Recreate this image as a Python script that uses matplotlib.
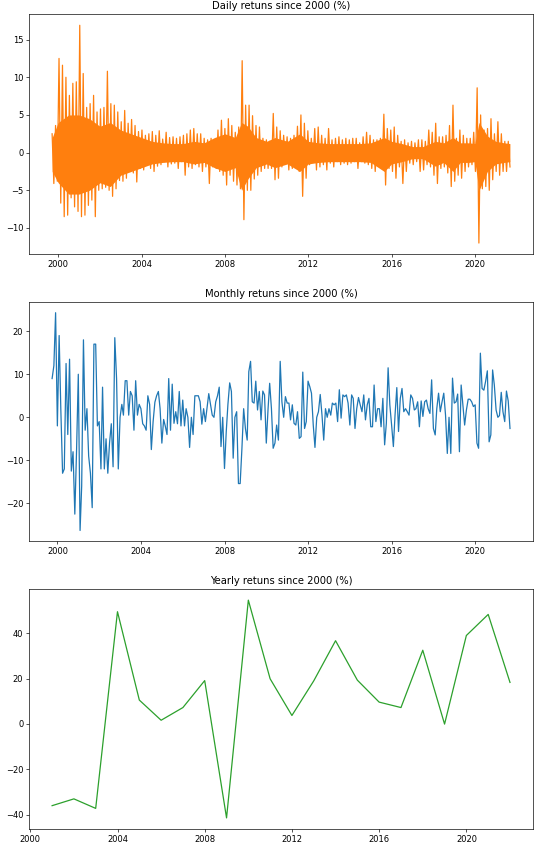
import numpy as np
import pandas as pd
import matplotlib
matplotlib.use("Agg")
import matplotlib.pyplot as plt

# ---------------- data ----------------
# Daily returns: extremes read per ~2-month bin (upper and lower)
daily_hi = [2.5, 3.6, 12.5, 11.6, 10, 7.6, 9.2, 9.4, 16.9, 10.5, 6, 6.5, 7.6, 5.4, 5.8, 6,
            10.8, 6.5, 6.3, 5.4, 4.1, 5.6, 3.9, 4.4, 3.6, 2.8, 3, 2.3, 2.5, 2.8, 2.3, 2.9, 1.8,
            2.7, 2.0, 2.1, 1.9, 2.1, 2.3, 2.5, 3.0, 3.2, 2.5, 2.5, 1.9, 1.7, 1.9, 1.7, 3.0, 4.3,
            3.2, 4.5, 3.6, 2.7, 3.4, 12.2, 6.3, 6.3, 4.9, 3.6, 3.4, 1.9, 1.7, 1.5, 5.2, 3.4, 2.9,
            2.3, 2.1, 1.9, 2.3, 3.5, 5.0, 3.9, 2.9, 1.9, 3.2, 3.4, 2.3, 1.9, 3.2, 1.7, 1.9, 2.1,
            1.7, 1.9, 1.7, 1.9, 1.9, 1.3, 2.1, 2.7, 2.3, 1.7, 1.7, 1.9, 5.1, 3.2, 3.0, 3.4,
            2.3, 1.5, 1.7, 1.3, 1.5, 1.3, 1.7, 1.7, 1.5, 3.0, 2.7, 3.9, 2.1, 2.1, 2.3, 3.6, 6.3,
            1.9, 3.0, 2.3, 1.9, 1.9, 2.7, 8.6, 5.0, 3.0, 3.2, 4.5, 2.5, 4.1, 2.5, 1.5, 1.5]
daily_lo = [-4.1, -3.8, -6.7, -8.5, -8.3, -6, -7.2, -7.8, -8.5, -8.3, -7, -6.3, -8.5, -5, -4.8,
            -4.6, -5, -5.8, -4.8, -3.7, -3.8, -3.4, -2.5, -2.7, -3.9, -2.1, -2.3, -1.6, -2.1,
            -2.5, -1.8, -1.6, -1.2,
            -1.9, -1.5, -1.4, -2.1, -1.2, -3.0, -1.9, -2.1, -1.6, -1.9, -2.5, -1.9, -4.1, -1.9,
            -2.1, -2.5, -3.0, -4.3, -3.0, -3.8, -4.3, -4.8, -8.9, -5, -5, -3.5, -3.0, -2.5, -2.1,
            -2.1, -2.1, -3.6, -3.4, -1.9,
            -1.2, -2.3, -2.1, -1.6, -2.5, -5.8, -3.4, -1.6, -1.2, -2.3, -1.9, -1.6, -2.3, -1.4,
            -1.9, -1.2, -1.6, -1.4, -1.6, -1.4, -1.2, -2.1, -1.2, -1.4, -1.6, -2.1, -2.5, -1.6,
            -2.1, -4.3, -2.1, -2.5, -3.4,
            -1.9, -4.1, -2.5, -1.4, -1.6, -1.2, -2.5, -2.3, -1.6, -1.9, -3.0, -4.1, -2.1, -1.9,
            -2.7, -4.5, -3.8, -3.0, -3.4, -2.5, -1.9, -1.6, -2.5, -12.0, -4.8, -4.5, -5.0, -3.6,
            -2.5, -3.0, -2.5, -2.5, -1.9]
daily_start, daily_end = "1999-09-16", "2021-09-08"

# Daily returns: dense core band (where the daily line is solid), read per ~half year
core_years = [1999.71, 2000.0, 2000.5, 2001.0, 2001.5, 2002.0, 2002.5, 2003.0, 2003.5, 2004.0,
              2004.5, 2005.0, 2005.5, 2006.0, 2006.5, 2007.0, 2007.5, 2008.0, 2008.5, 2008.8,
              2009.1, 2009.5, 2010.0, 2010.4, 2011.0, 2011.6, 2012.0, 2012.5, 2013.0, 2013.5,
              2014.0, 2014.5, 2015.0, 2015.65, 2016.0, 2016.5, 2017.0, 2017.5, 2018.1, 2018.5,
              2018.95, 2019.3, 2019.7, 2020.0, 2020.2, 2020.6, 2021.0, 2021.4, 2021.68]
core_hi = [2, 4, 5, 5, 4.5, 3.5, 4, 3, 2.5, 2,
           1.5, 1.3, 1.2, 1.2, 1.5, 1.3, 2, 2.5, 2, 4,
           3.5, 2, 1.5, 2, 1.5, 2.5, 1.5, 1.3, 1.2, 1.2,
           1.2, 1.2, 1.3, 2, 1.5, 1.2, 0.8, 0.8, 1.5, 1.3,
           2, 1.3, 1.3, 1.2, 4, 2.2, 1.5, 1.3, 1.2]
core_lo = [-2.5, -4, -5.5, -5.5, -5, -4, -4.5, -3, -2.5, -2,
           -1.5, -1.3, -1.2, -1.2, -1.5, -1.3, -2, -2.5, -2, -5,
           -3.5, -2, -1.5, -2, -1.5, -2.5, -1.5, -1.3, -1.2, -1.2,
           -1.2, -1.2, -1.3, -2.5, -1.5, -1.2, -0.8, -0.8, -1.8, -1.3,
           -2.5, -1.3, -1.3, -1.2, -5, -2.5, -1.5, -1.3, -1.2]

# Monthly returns (%), month ends from Sep 1999
monthly = [9, 12, 24.3, -2, 19, 2, -13, -12, 12.5, -4,
           13.5, -12.5, -8, -22.5, -8, 10, -26.3, -16, 18, -3,
           2, -9, -13, -21, 17, 17, -2, -1, -12, 7,
           -12, -5, -13, -6, -1.5, -11.5, 18.5, 9, -12, 0,
           3, 0.5, 8.5, 8.5, 0.5, 6, 5, -3, 8.5, 0.5,
           3, 2, -1.5, -2, -3, 5, 3, -7.5, -1, 3.5,
           5, 6, 2, -6, -0.5, -2, -4, 9,
           -3, 7.7, -1.4, 1.3, -1.5, 6, -2, 4, -2, 2,
           0, -7, 0, -4, 5, 5, 5, 3.6, -1.6, 2,
           -1, 2, 5.5, 3, 0.5, 0, 3.6, 5, 7, -6.8,
           0, -11.9, -3.3, 3, 8, 6, -9.5, 0, 1.3, -15.4,
           -15.4, -7.2, 2, -2.6, -5.3, 10.6, 13, 3.6, 3.3, 8.4,
           1.7, 6, -0.6, 6.1, 5.2, -6, 2, 7.9, 2, -7.2,
           -6, -1.8, -5.3,
           13, 3.6, 0, 4.8, 3.3, 3.3, -0.6, 2.9, -1.4, -1.8,
           1.3, -4.9, -4.5, 10.5, -2.6, -1, 8.4, 7.1, 5.6, -1.8,
           -7, 0, 1.3, 5.3, 0.5, -5.3, 2, 0, 2, 0.5,
           3.3, 2.9, 3.3, -1, 6.4, -0.2, 5.2, 4.8, 5.2, 3.3,
           -1.8, 5.2, 4.4, -2.6, 2, 4.6, 2.9, 1.3, 5.2, -0.6,
           2.9, 4.4, -2.2, -2.2, 7.5, -1, 2, 2, -2.2, 4.4,
           -6.4, -1.4, 11.5, 2.9, -1.8, -6.8, 0.5, 6.9, -3.3, 4.4,
           6.7, 1.3, 2, 1.3, 0.5,
           5.2, 4.4, 1.7, 2, 3.6, -2.2, 3.8, 0.2, 3.6, 4,
           2, 0.9, 8.7, -2.6, -4.1, 2, 5.6, 1.3, 3.6, 5.6,
           0.5, -8.4, 0, -8.4, 9.1, 3.3, 3.6, 5.4, -8, 7.5,
           2.9, -1.8, 1.7, 4.2, 4.2, 3.6, 2.5, 2.9, -6, -7.2,
           14.9, 6.7, 6.3, 8.3, 10.8, -5.7, -4.1, 11, 7.5, 1.7,
           0, 0.4, 5.8, 1.3, -1, 6.1, 3.8, -2.6]
monthly_start = "1999-09-30"

# Yearly returns (%), year ends 2000..2021
years = list(range(2000, 2022))
yearly = [-36.1, -33.1, -37.3, 49.5, 10.5, 1.6, 7.2, 19.1, -41.5, 54.6, 19.9,
          3.7, 19.0, 36.7, 19.3, 9.6, 7.2, 32.5, -0.1, 39.0, 48.3, 18.3]

titles = ["Daily retuns since 2000 (%)",
          "Monthly retuns since 2000 (%)",
          "Yearly retuns since 2000 (%)"]

# ---------------- build series ----------------
daily_vals = []
for h, l in zip(daily_hi, daily_lo):
    daily_vals.extend([h, l])
daily = pd.Series(daily_vals,
                  index=pd.date_range(daily_start, daily_end, periods=len(daily_vals)))


def decimal_year_to_date(y):
    yr = int(y)
    start = pd.Timestamp(f"{yr}-01-01")
    end = pd.Timestamp(f"{yr + 1}-01-01")
    return start + (end - start) * (y - yr)


core_dates = pd.DatetimeIndex([decimal_year_to_date(y) for y in core_years])
monthly_s = pd.Series(monthly,
                      index=pd.date_range(monthly_start, periods=len(monthly), freq="ME"))
yearly_s = pd.Series(yearly,
                     index=pd.to_datetime([f"{y}-12-31" for y in years]))

# ---------------- plot ----------------
DPI = 60
plt.rcParams["font.family"] = ["DejaVu Sans"]
fig, axes = plt.subplots(3, 1, figsize=(541 / DPI, 847 / DPI), dpi=DPI)
fig.subplots_adjust(left=0.054, right=0.985, top=0.983, bottom=0.0215, hspace=0.2)

orange = "#ff7f0e"
axes[0].fill_between(core_dates, core_lo, core_hi, color=orange, lw=0)
axes[0].plot(daily.index, daily.values, color=orange, lw=1.5)
axes[1].plot(monthly_s.index, monthly_s.values, color="#1f77b4", lw=1.5)
axes[2].plot(yearly_s.index, yearly_s.values, color="#2ca02c", lw=1.5)

for ax, t in zip(axes, titles):
    ax.set_title(t, fontsize=12)
    ax.tick_params(labelsize=10)

fig.savefig("out.png", dpi=DPI)
